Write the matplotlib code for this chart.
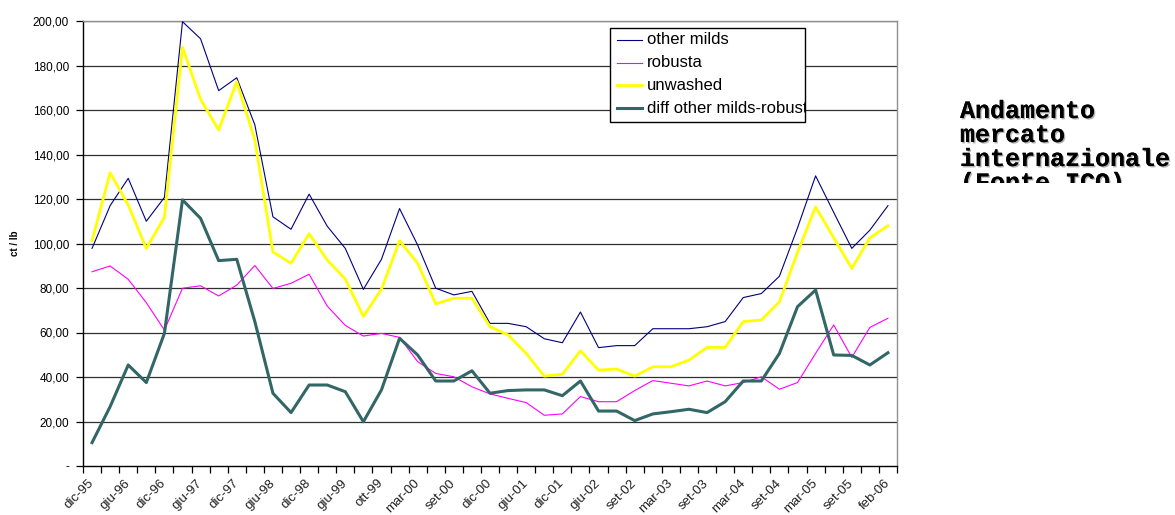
import matplotlib.pyplot as plt
import matplotlib.patheffects as pe
from matplotlib.lines import Line2D
from matplotlib.patches import Rectangle
from matplotlib.transforms import ScaledTranslation
import numpy as np

# periods on the category axis (only every second one is labelled)
periods = ['dic-95', 'mar-96', 'giu-96', 'set-96', 'dic-96', 'mar-97', 'giu-97', 'set-97',
           'dic-97', 'mar-98', 'giu-98', 'set-98', 'dic-98', 'mar-99', 'giu-99', 'ago-99',
           'ott-99', 'dic-99', 'mar-00', 'giu-00', 'set-00', 'ott-00', 'dic-00', 'mar-01',
           'giu-01', 'set-01', 'dic-01', 'mar-02', 'giu-02', 'lug-02', 'set-02', 'dic-02',
           'mar-03', 'giu-03', 'set-03', 'dic-03', 'mar-04', 'giu-04', 'set-04', 'dic-04',
           'mar-05', 'giu-05', 'set-05', 'dic-05', 'feb-06']

# prices in ct / lb
other_milds = [97.8, 117.0, 129.3, 110.0, 120.7, 199.7, 192.0, 168.7, 174.5, 153.3,
               112.0, 106.4, 122.2, 107.8, 97.8, 79.4, 92.9, 115.7, 99.3, 79.9,
               76.9, 78.5, 64.1, 64.1, 62.6, 57.2, 55.4, 69.2, 53.2, 54.1,
               54.1, 61.7, 61.7, 61.7, 62.6, 64.9, 75.7, 77.5, 85.3, 107.0,
               130.4, 114.0, 97.8, 106.0, 117.0]
robusta = [87.3, 89.9, 83.9, 73.4, 61.1, 79.9, 81.0, 76.4, 81.3, 90.1,
           79.8, 82.1, 86.2, 71.9, 63.2, 58.4, 59.6, 57.8, 46.9, 41.6,
           40.1, 35.6, 32.4, 30.4, 28.5, 22.8, 23.4, 31.2, 28.9, 28.9,
           33.9, 38.4, 37.2, 36.0, 38.2, 36.0, 37.5, 40.1, 34.5, 37.5,
           50.6, 63.4, 48.8, 62.3, 66.4]
unwashed = [101.3, 131.8, 117.3, 97.8, 111.8, 188.2, 164.8, 151.0, 172.7, 146.5,
            96.2, 91.1, 104.4, 92.6, 84.0, 67.2, 79.5, 101.2, 91.1, 72.9,
            75.4, 75.4, 62.6, 58.9, 50.6, 40.4, 41.2, 51.8, 43.1, 43.6,
            40.4, 44.6, 44.6, 47.6, 53.3, 53.3, 64.9, 65.6, 73.8, 96.0,
            116.4, 102.6, 88.8, 102.5, 108.0]
diff = [10.5, 26.7, 45.4, 37.5, 59.6, 119.6, 111.3, 92.3, 92.9, 64.9,
        32.7, 24.0, 36.4, 36.4, 33.4, 19.9, 34.2, 57.4, 49.9, 38.2,
        38.2, 42.8, 32.7, 33.9, 34.2, 34.2, 31.6, 38.2, 24.7, 24.7,
        20.4, 23.4, 24.4, 25.5, 24.0, 28.9, 38.2, 38.2, 50.6, 71.6,
        79.1, 49.9, 49.7, 45.4, 50.9]

series_names = ['other milds', 'robusta', 'unwashed', 'diff other milds-robusta']
series_colors = ['#000080', '#ff00ff', '#ffff00', '#336666']
series_widths = [0.8, 0.8, 2.0, 2.2]
y_ticks = [0, 20, 40, 60, 80, 100, 120, 140, 160, 180, 200]

plt.rcParams['font.family'] = ['Liberation Sans', 'DejaVu Sans']

fig = plt.figure(figsize=(11.75, 5.15), dpi=100)
W, H = 1175.0, 515.0
ax = fig.add_axes([83 / W, 1 - 466 / H, 814 / W, 445 / H])

x = np.arange(len(periods))
for vals, name, col, lw in zip([other_milds, robusta, unwashed, diff],
                               series_names, series_colors, series_widths):
    ax.plot(x, vals, color=col, lw=lw, label=name, zorder=3)

ax.set_xlim(-0.5, len(periods) - 0.5)
ax.set_ylim(0, 200)
ax.set_yticks(y_ticks)
ax.set_yticklabels(['-' if v == 0 else ('%.2f' % v).replace('.', ',') for v in y_ticks],
                   fontsize=8.5)
for v in y_ticks[1:]:
    ax.axhline(v, color='#303030', lw=0.9, zorder=1)

ax.set_xticks(x[::2])
ax.set_xticklabels(periods[::2], rotation=45, ha='right', va='center', fontsize=9.5,
                   rotation_mode='anchor', color='#202020')
shift = ScaledTranslation(-3 / 100, 0, fig.dpi_scale_trans)
for lbl in ax.get_xticklabels():
    lbl.set_transform(lbl.get_transform() + shift)
ax.set_xticks(np.arange(-0.5, len(periods)), minor=True)
ax.tick_params(axis='x', which='major', length=0, pad=11)
ax.tick_params(axis='x', which='minor', length=5, width=0.9, direction='out')
ax.tick_params(axis='y', length=5, width=0.9, direction='out', pad=5)

for s in ['left', 'bottom']:
    ax.spines[s].set_color('black')
    ax.spines[s].set_linewidth(1.0)
for s in ['top', 'right']:
    ax.spines[s].set_color('#909090')
    ax.spines[s].set_linewidth(1.0)

fig.text(15 / W, 1 - 243 / H, 'ct / lb', rotation=90, ha='center', va='center',
         fontsize=7, fontweight='bold')

# legend box, last label is cut by the frame as in the original
bx0, by0, bx1, by1 = 610, 28, 805, 122
box = Rectangle((bx0 / W, 1 - by1 / H), (bx1 - bx0) / W, (by1 - by0) / H,
                transform=fig.transFigure, facecolor='white', edgecolor='black',
                lw=1.0, zorder=5)
fig.patches.append(box)
for k, (name, col, lw) in enumerate(zip(series_names, series_colors, series_widths)):
    yy = 1 - (40 + k * 22.7) / H
    fig.lines.append(Line2D([617 / W, 642 / W], [yy, yy], transform=fig.transFigure,
                            color=col, lw=lw, zorder=6))
    t = fig.text(647 / W, yy, name, ha='left', va='center', fontsize=12, zorder=6)
    t.set_clip_path(box)

# side note, last line cut off
note = fig.text(960 / W, 1 - 99 / H, 'Andamento\nmercato\ninternazionale\n(Fonte ICO)',
                ha='left', va='top', family='Liberation Mono', fontweight='bold',
                fontsize=18, linespacing=1.0,
                path_effects=[pe.withSimplePatchShadow(offset=(1, -1),
                                                       shadow_rgbFace='#a8a8a8', alpha=0.9),
                              pe.Normal()])
clip = Rectangle((900 / W, 1 - 183 / H), 275 / W, 183 / H, transform=fig.transFigure,
                 visible=False)
fig.patches.append(clip)
note.set_clip_path(clip)

fig.savefig('out.png', dpi=100)
